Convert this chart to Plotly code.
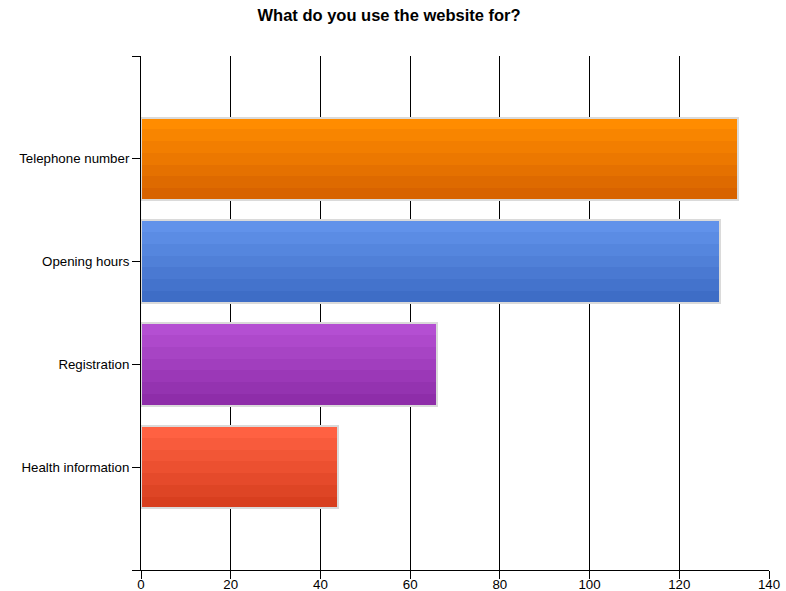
import plotly.graph_objects as go

# Survey answers, listed bottom to top
categories = ["Health information", "Registration", "Opening hours", "Telephone number"]
responses = [44, 66, 129, 133]

# Gradient end colours per bar (top, bottom)
top_colors = ["#FF6142", "#B44FD2", "#6192EA", "#FF8C00"]
bottom_colors = ["#D83F1F", "#8E2DA9", "#3E6DC6", "#D86300"]

x_ticks = [0, 20, 40, 60, 80, 100, 120, 140]

BAR_WIDTH = 0.8
N_BANDS = 7


def hex_to_rgb(h):
    h = h.lstrip("#")
    return tuple(int(h[i:i + 2], 16) for i in (0, 2, 4))


def mix(c1, c2, t):
    a, b = hex_to_rgb(c1), hex_to_rgb(c2)
    return "rgb({},{},{})".format(*[round(a[k] + (b[k] - a[k]) * t) for k in range(3)])


positions = list(range(len(categories)))
fig = go.Figure()

# Each bar is built from horizontal stripes to give a banded vertical gradient
band_w = BAR_WIDTH / N_BANDS
for i in range(N_BANDS):
    t = 1 - i / (N_BANDS - 1)  # bottom stripe darkest, top stripe lightest
    colors = [mix(top_colors[j], bottom_colors[j], t) for j in range(len(categories))]
    fig.add_trace(go.Bar(
        y=positions, x=responses, orientation="h",
        width=band_w * 1.02, offset=-BAR_WIDTH / 2 + i * band_w,
        marker=dict(color=colors, line=dict(width=0)),
        hoverinfo="skip", showlegend=False,
    ))

# Light grey outline around each bar
fig.add_trace(go.Bar(
    y=positions, x=responses, orientation="h",
    width=BAR_WIDTH, offset=-BAR_WIDTH / 2,
    marker=dict(color="rgba(0,0,0,0)", line=dict(color="#DADADA", width=2)),
    showlegend=False,
))

fig.update_layout(
    width=786, height=591,
    margin=dict(l=141, r=17, t=56, b=21),
    paper_bgcolor="white", plot_bgcolor="white",
    barmode="overlay", bargap=0,
    font=dict(family="Liberation Sans, Arial, sans-serif", size=13.3, color="#000000"),
    title=dict(
        text="<b>What do you use the website for?</b>",
        x=0.495, xanchor="center", y=0.975, yanchor="middle",
        font=dict(size=16.5, color="#000000"),
    ),
    xaxis=dict(
        range=[0, 140], tickvals=x_ticks,
        showgrid=True, gridcolor="#000000", gridwidth=1,
        zeroline=False, automargin=False,
        showline=True, linecolor="#000000", linewidth=1,
        ticks="outside", ticklen=8, tickcolor="#000000", tickwidth=1,
        ticklabelstandoff=-6,
        tickfont=dict(size=13.3),
    ),
    yaxis=dict(
        range=[-1, len(categories)],
        tickvals=list(range(-1, len(categories) + 1)),
        ticktext=[""] + categories + [""],
        showgrid=False, zeroline=False, automargin=False,
        showline=True, linecolor="#000000", linewidth=1,
        ticks="outside", ticklen=8, tickcolor="#000000", tickwidth=1,
        tickfont=dict(size=13.3),
    ),
)

fig.write_html("out.html")
